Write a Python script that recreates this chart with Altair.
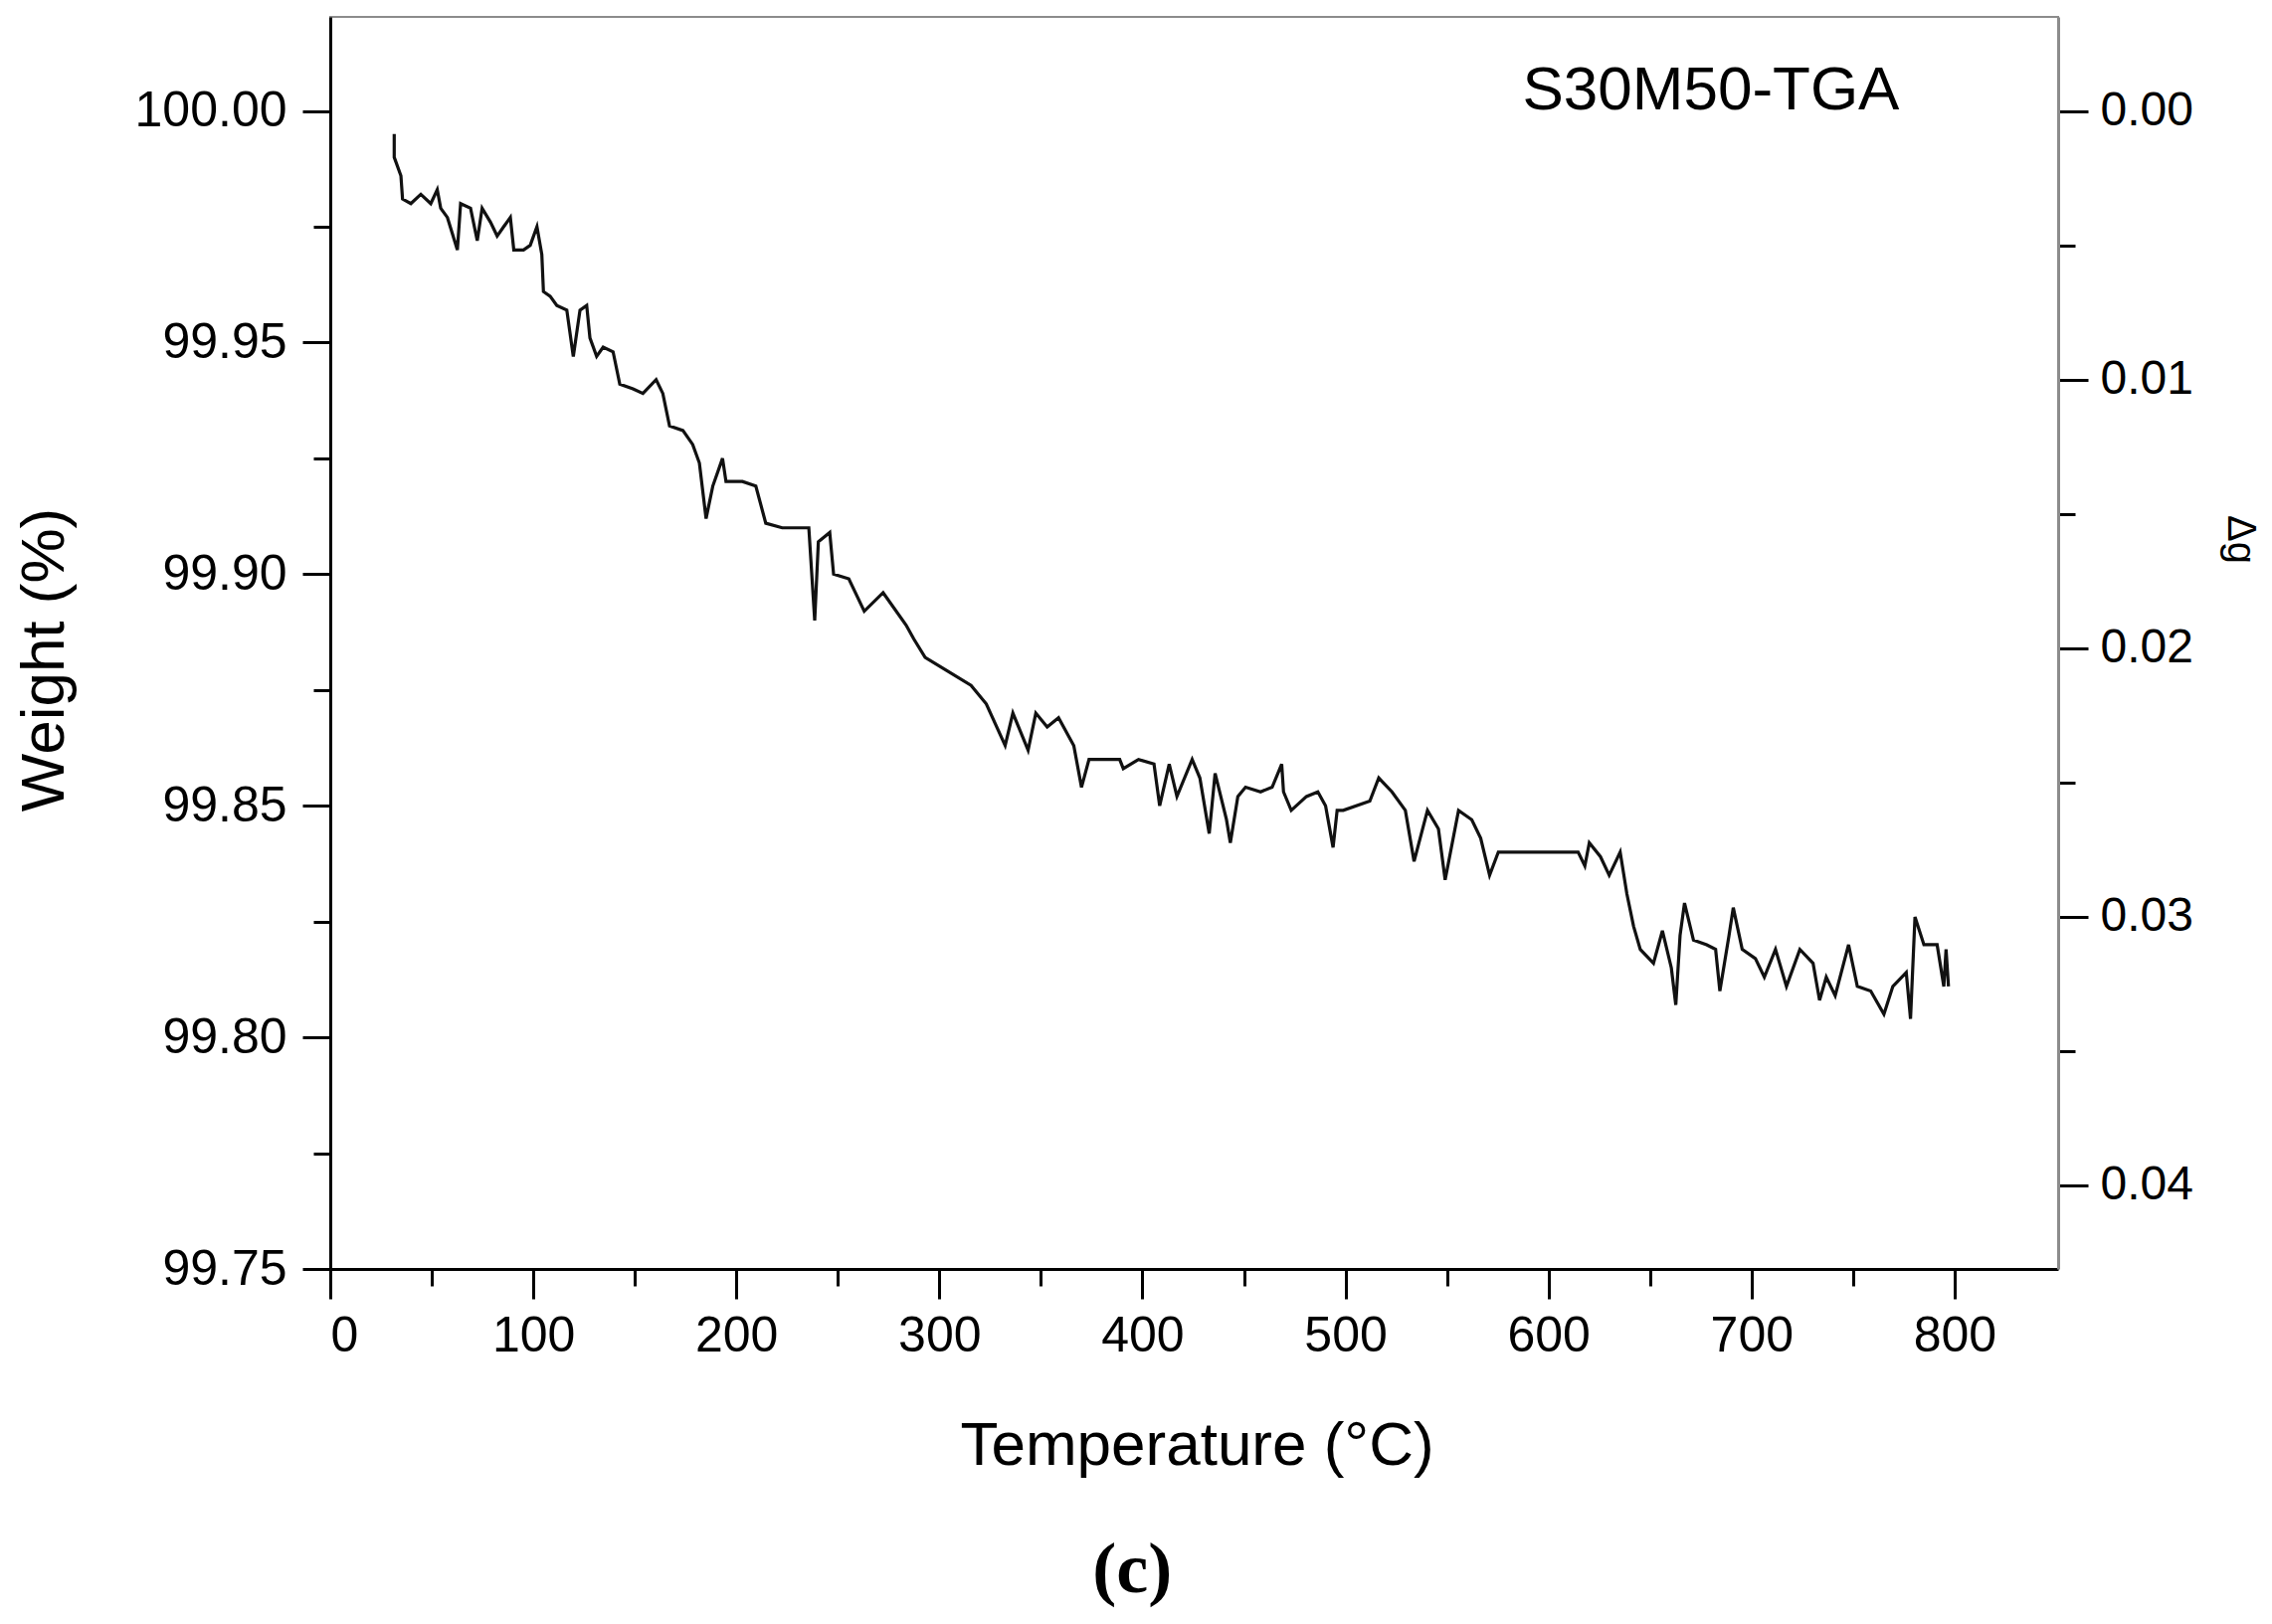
import altair as alt
import pandas as pd

temperature = [31.5, 31.5, 34.8, 35.6, 39.7, 44.6, 49.5, 52.7, 54.4, 57.7, 62.6, 64.2, 69.1, 72.4, 74.8, 78.9, 82.2, 85.4, 88.7, 90.4,
               95.2, 98.5, 101.8, 104.2, 105.0, 108.3, 111.6, 116.5, 119.7, 123.0, 126.3, 127.9, 131.2, 134.4, 139.3, 142.6, 149.1, 154.0,
               160.5, 163.8, 167.1, 173.7, 178.5, 181.8, 185.1, 188.4, 193.2, 194.9, 203.0, 209.6, 214.5, 222.6, 234.0,
               235.7, 238.6, 240.4, 246.0, 247.9, 255.4, 263.0, 272.3, 283.6, 287.4, 293.0, 304.3, 315.6, 323.1, 332.4, 336.2, 343.7,
               347.5, 353.1, 358.7, 366.2, 370.0, 373.7, 388.8, 390.6, 398.1, 405.7, 408.5, 413.2, 417.0, 424.5, 428.3, 432.9, 435.8,
               441.4, 443.3, 447.0, 450.8, 458.2, 463.9, 468.6, 469.5, 473.3, 480.8, 486.4, 490.2, 493.9, 495.9,
               498.9, 512.0, 516.4, 522.9, 529.5, 533.8, 540.4, 545.8, 549.1, 555.7, 562.2, 566.6, 571.0, 575.3, 586.2, 601.5, 614.6,
               617.9, 620.1, 625.6, 629.9, 635.3, 638.6, 641.9, 645.2, 651.7, 656.1, 660.5, 662.7, 664.8, 667.0, 671.4, 677.9, 682.3,
               684.4, 688.9, 691.0, 695.4, 701.9, 706.3, 711.8, 717.2, 723.8, 730.3, 733.5, 736.8, 741.2, 747.8, 752.1, 758.7, 765.2,
               769.6, 776.2, 778.3, 780.5, 784.9, 791.4, 794.7, 795.8, 797.0]

weight = [99.995, 99.990, 99.986, 99.981, 99.980, 99.982, 99.980, 99.983, 99.979, 99.977, 99.970, 99.980, 99.979, 99.972, 99.979,
          99.976, 99.973, 99.975, 99.977, 99.970, 99.970, 99.971, 99.975, 99.969, 99.961, 99.960, 99.958, 99.957, 99.947, 99.957,
          99.958, 99.951, 99.947, 99.949, 99.948, 99.941, 99.940, 99.939, 99.942, 99.939, 99.932, 99.931, 99.928, 99.924, 99.912,
          99.919, 99.925, 99.920, 99.920, 99.919, 99.911, 99.910, 99.910,
          99.910, 99.890, 99.907, 99.909, 99.900, 99.899, 99.892, 99.896, 99.889, 99.886, 99.882, 99.879, 99.876, 99.872, 99.863,
          99.870, 99.862, 99.870, 99.867, 99.869, 99.863, 99.854, 99.860, 99.860, 99.858, 99.860, 99.859, 99.850, 99.859, 99.852,
          99.860, 99.856, 99.844, 99.857, 99.847, 99.842, 99.852, 99.854, 99.853, 99.854, 99.859, 99.853, 99.849, 99.852, 99.853,
          99.850, 99.841, 99.849,
          99.849, 99.851, 99.856, 99.853, 99.849, 99.838, 99.849, 99.845, 99.834, 99.849, 99.847, 99.843, 99.835, 99.840, 99.840,
          99.840, 99.840, 99.837, 99.842, 99.839, 99.835, 99.840, 99.831, 99.824, 99.819, 99.816, 99.823, 99.815, 99.807, 99.822,
          99.829, 99.821, 99.820, 99.819, 99.810, 99.822, 99.828, 99.819, 99.817, 99.813, 99.819, 99.811, 99.819, 99.816, 99.808,
          99.813, 99.809, 99.820, 99.811, 99.810, 99.805, 99.811, 99.814, 99.804, 99.826, 99.820, 99.820, 99.811, 99.819, 99.811]

x_ticks = [0, 50, 100, 150, 200, 250, 300, 350, 400, 450, 500, 550, 600, 650, 700, 750, 800]
w_ticks = [99.75, 99.775, 99.80, 99.825, 99.85, 99.875, 99.90, 99.925, 99.95, 99.975, 100.00]
dg_ticks = [0.0, 0.005, 0.01, 0.015, 0.02, 0.025, 0.03, 0.035, 0.04]
dg_range = [0.0, 0.04]

sample_label = ["S30M50-TGA"]
sample_pos = [(680, 100.0045)]
caption_label = ["(c)"]
caption_pos = [(395, 99.685)]

W, H = 1737, 1259
FONT = "Liberation Sans"

df = pd.DataFrame({"T": temperature, "W": weight})
df["i"] = range(len(df))

xs = alt.Scale(domain=[0, 851], nice=False, zero=False)
ys = alt.Scale(domain=[99.75, 100.0203], nice=False, zero=False)
ds = alt.Scale(domain=[-0.00351, 0.04313], nice=False, zero=False, reverse=True)

x_axis = alt.Axis(
    values=x_ticks,
    labelExpr="datum.value % 100 == 0 ? datum.label : ''",
    format="d",
    tickSize={"condition": {"test": "datum.value % 100 == 0", "value": 30}, "value": 17},
    tickWidth=3, tickColor="black",
    domainColor="black", domainWidth=3,
    labelFont=FONT, labelFontSize=50, labelColor="black", labelPadding=12,
    title="Temperature (°C)", titleFont=FONT, titleFontSize=62, titleFontWeight="normal",
    titleColor="black", titleX=871, titleY=177, titleAnchor="start", titleAlign="center",
    titleBaseline="middle", grid=False,
)

y_axis = alt.Axis(
    values=w_ticks,
    labelExpr="abs(datum.value*20 - round(datum.value*20)) < 0.001 ? format(datum.value, '.2f') : ''",
    tickSize={"condition": {"test": "abs(datum.value*20 - round(datum.value*20)) < 0.001", "value": 28},
              "value": 17},
    tickWidth=3, tickColor="black",
    domainColor="black", domainWidth=3,
    labelFont=FONT, labelFontSize=50, labelColor="black", labelPadding=16,
    title="Weight (%)", titleFont=FONT, titleFontSize=62, titleFontWeight="normal", titleColor="black",
    titleAngle=270, titleX=-288, titleY=646, titleAlign="center", titleBaseline="middle",
    grid=False,
)

dg_axis = alt.Axis(
    orient="right",
    values=dg_ticks,
    labelExpr="abs(datum.value*100 - round(datum.value*100)) < 0.0001 ? format(datum.value, '.2f') : ''",
    tickSize={"condition": {"test": "abs(datum.value*100 - round(datum.value*100)) < 0.0001", "value": 30},
              "value": 17},
    tickWidth=3, tickColor="black",
    domainColor="#8c8c8c", domainWidth=3,
    labelFont=FONT, labelFontSize=48, labelColor="black", labelPadding=12,
    title="Δg", titleFont=FONT, titleFontSize=40, titleFontWeight="normal", titleColor="black",
    titleAngle=90, titleX=182, titleY=525, titleAlign="center", titleBaseline="middle",
    grid=False,
)

line = alt.Chart(df).mark_line(color="#111111", strokeWidth=3.2).encode(
    x=alt.X("T:Q", scale=xs, axis=x_axis, title="Temperature (°C)"),
    y=alt.Y("W:Q", scale=ys, axis=y_axis, title="Weight (%)"),
    order="i:Q",
)

sample_df = pd.DataFrame({"T": [p[0] for p in sample_pos], "W": [p[1] for p in sample_pos], "label": sample_label})
sample_text = alt.Chart(sample_df).mark_text(
    font=FONT, fontSize=62, color="black", align="center", baseline="middle"
).encode(
    x=alt.X("T:Q", scale=xs, title="Temperature (°C)"),
    y=alt.Y("W:Q", scale=ys, title="Weight (%)"),
    text="label:N",
)

caption_df = pd.DataFrame({"T": [p[0] for p in caption_pos], "W": [p[1] for p in caption_pos], "label": caption_label})
caption_text = alt.Chart(caption_df).mark_text(
    font="Liberation Serif", fontSize=72, fontWeight="bold", color="black", align="center", baseline="middle"
).encode(
    x=alt.X("T:Q", scale=xs, title="Temperature (°C)"),
    y=alt.Y("W:Q", scale=ys, title="Weight (%)"),
    text="label:N",
)

left = alt.layer(line, sample_text, caption_text)

dg_df = pd.DataFrame({"dg": dg_range})
right = alt.Chart(dg_df).mark_point(opacity=0).encode(
    y=alt.Y("dg:Q", scale=ds, axis=dg_axis, title="Δg"),
)

chart = alt.layer(left, right).resolve_scale(y="independent").properties(
    width=W, height=H,
    autosize=alt.AutoSizeParams(type="none"),
    padding={"left": 324, "top": 9, "right": 206, "bottom": 350},
    background="white",
).configure_view(stroke="#8c8c8c", strokeWidth=2)

chart.save("out.html", embed_options={"renderer": "svg", "actions": False})
